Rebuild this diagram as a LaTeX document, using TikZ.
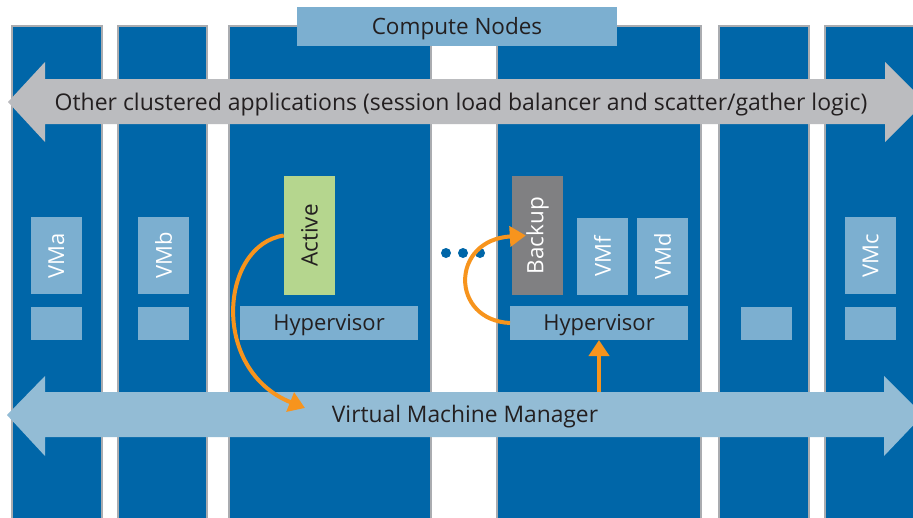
\documentclass[tikz,border=0pt]{standalone}
\usepackage{fontspec}
\setmainfont{Open Sans}
\usetikzlibrary{arrows.meta}
\definecolor{colblue}{RGB}{0,102,168}
\definecolor{colgray}{RGB}{170,172,176}
\definecolor{lblue}{RGB}{124,175,208}
\definecolor{vmmblue}{RGB}{147,188,213}
\definecolor{appgray}{RGB}{187,188,191}
\definecolor{actgreen}{RGB}{181,214,142}
\definecolor{bkgray}{RGB}{128,128,130}
\definecolor{orng}{RGB}{247,148,29}
\definecolor{txt}{RGB}{35,31,32}
\tikzset{
  colbox/.style={draw=colgray, line width=1.5pt, fill=colblue},
  lbox/.style={fill=lblue, inner sep=0pt, outer sep=0pt},
  vmlabel/.style={rotate=90, text=white, font=\fontsize{22}{24}\selectfont},
  htext/.style={text=txt, yshift=-2.5pt},
  orarrow/.style={draw=orng, line width=4pt, -{Triangle[length=16pt,width=20pt]}},
}
\begin{document}
\begin{tikzpicture}[x=1pt,y=-1pt]
\useasboundingbox (0,0) rectangle (913,517);
\fill[white] (0,0) rectangle (913,517);
% columns
\foreach \a/\b in {12/102,118/207,229/431,497/701,719/809,825/920}{
  \draw[colbox] (\a,26) -- (\a,530) -- (\b,530) -- (\b,26) -- cycle;
}
% compute nodes
\node[lbox, minimum width=320pt, minimum height=39pt] (cn) at (457,26.5) {};
\node[htext, font=\fontsize{22.5}{24}\selectfont] at (cn) {Compute Nodes};
% VM boxes
\node[lbox, minimum width=51pt, minimum height=77pt] (vma) at (56.5,255.5) {};
\node[vmlabel] at (vma) {VMa};
\node[lbox, minimum width=51pt, minimum height=77pt] (vmb) at (163.5,255.5) {};
\node[vmlabel] at (vmb) {VMb};
\node[lbox, minimum width=51pt, minimum height=77pt] (vmc) at (870.5,255.5) {};
\node[vmlabel] at (vmc) {VMc};
\node[lbox, minimum width=51pt, minimum height=77pt] (vmf) at (602.5,256.5) {};
\node[vmlabel] at (vmf) {VMf};
\node[lbox, minimum width=51pt, minimum height=77pt] (vmd) at (662.5,256.5) {};
\node[vmlabel] at (vmd) {VMd};
\node[lbox, minimum width=51pt, minimum height=33pt] (sa) at (56.5,323.5) {};
\node[lbox, minimum width=51pt, minimum height=33pt] (sb) at (163.5,323.5) {};
\node[lbox, minimum width=51pt, minimum height=33pt] (s5) at (766.5,323.5) {};
\node[lbox, minimum width=51pt, minimum height=33pt] (sc) at (870.5,323.5) {};
% active / backup
\node[fill=actgreen, inner sep=0pt, minimum width=51pt, minimum height=119pt] (active) at (309.5,235.5) {};
\node[rotate=90, text=txt, font=\fontsize{22.5}{24}\selectfont] at (active) {Active};
\node[fill=bkgray, inner sep=0pt, minimum width=51pt, minimum height=119pt] (backup) at (537.5,235.5) {};
\node[rotate=90, text=white, font=\fontsize{22.5}{24}\selectfont] at (backup) {Backup};
% hypervisors
\node[lbox, minimum width=178pt, minimum height=34pt] (hyp1) at (329,323) {};
\node[htext, font=\fontsize{22}{24}\selectfont] at (hyp1) {Hypervisor};
\node[lbox, minimum width=178pt, minimum height=34pt] (hyp2) at (599,323) {};
\node[htext, font=\fontsize{22}{24}\selectfont] at (hyp2) {Hypervisor};
% dots
\foreach \x [count=\i] in {446,463,480}{\fill[colblue] (\x,253) circle (5pt);}
% gray double arrow
\fill[appgray] (8,102) -- (45,62) -- (45,79) -- (885,79) -- (885,62) -- (925,102) -- (885,142) -- (885,124) -- (45,124) -- (45,142) -- cycle;
\node[htext, font=\fontsize{23}{25}\selectfont] (apps) at (461,102) {Other clustered applications (session load balancer and scatter/gather logic)};
% VMM double arrow
\fill[vmmblue] (7,415) -- (45,376) -- (45,392) -- (884,392) -- (884,376) -- (923,415) -- (884,456) -- (884,437) -- (45,437) -- (45,456) -- cycle;
\node[htext, font=\fontsize{22.8}{25}\selectfont] (vmm) at (465,414) {Virtual Machine Manager};
\coordinate (vmmtop) at (599,392);
% orange arrows
\draw[orarrow] (active.west) .. controls (220,245) and (210,370) .. (305,408);
\draw[orarrow] (hyp2.west) .. controls (450,320) and (450,240) .. ([xshift=14pt]backup.west);
\draw[orarrow] (vmmtop) -- (hyp2.south);
\end{tikzpicture}
\end{document}
